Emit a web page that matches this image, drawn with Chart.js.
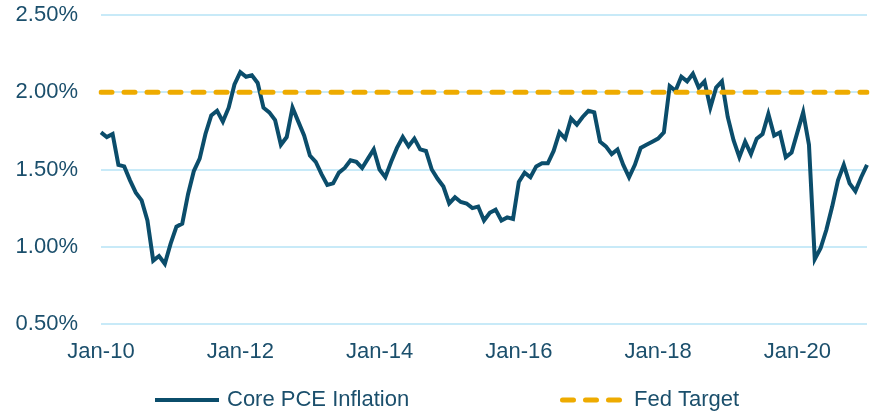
<!DOCTYPE html>
<html>
<head>
<meta charset="utf-8">
<script src="https://cdn.jsdelivr.net/npm/chart.js@4/dist/chart.umd.min.js"></script>
<style>
  html, body { margin: 0; padding: 0; background: #fff; }
  #wrap { width: 880px; height: 415px; }
</style>
</head>
<body>
<div id="wrap"><canvas id="myChart" width="880" height="415"></canvas></div>
<script>
// monthly labels Jan-10 .. Jan-21
let monthNames = ["Jan","Feb","Mar","Apr","May","Jun","Jul","Aug","Sep","Oct","Nov","Dec"];
let labels = [];
for (let y = 2010; y <= 2021; y++) {
  for (let m = 0; m < 12; m++) {
    if (y === 2021 && m > 0) break;
    labels.push(monthNames[m] + "-" + String(y).slice(2));
  }
}

// core PCE y/y, %
let corePce = [
  1.74, 1.71, 1.73, 1.53, 1.52, 1.43, 1.35, 1.30, 1.17, 0.91, 0.94, 0.89,
  1.02, 1.13, 1.15, 1.34, 1.49, 1.57, 1.73, 1.85, 1.88, 1.81, 1.90, 2.05,
  2.13, 2.10, 2.11, 2.06, 1.90, 1.87, 1.82, 1.66, 1.71, 1.90, 1.81, 1.72,
  1.59, 1.55, 1.47, 1.40, 1.41, 1.48, 1.51, 1.56, 1.55, 1.51, 1.57, 1.63,
  1.50, 1.45, 1.55, 1.64, 1.71, 1.65, 1.70, 1.63, 1.62, 1.50, 1.44, 1.39,
  1.28, 1.32, 1.29, 1.28, 1.25, 1.26, 1.17, 1.22, 1.24, 1.17, 1.19, 1.18,
  1.42, 1.48, 1.45, 1.52, 1.54, 1.54, 1.62, 1.74, 1.70, 1.83, 1.79, 1.84,
  1.88, 1.87, 1.68, 1.65, 1.60, 1.63, 1.53, 1.45, 1.53, 1.64, 1.66, 1.68,
  1.70, 1.74, 2.04, 2.01, 2.10, 2.07, 2.12, 2.03, 2.07, 1.90, 2.03, 2.07,
  1.84, 1.69, 1.58, 1.68, 1.60, 1.70, 1.73, 1.86, 1.72, 1.74, 1.58, 1.61,
  1.74, 1.87, 1.66, 0.92, 0.99, 1.11, 1.26, 1.43, 1.53, 1.41, 1.36, 1.45,
  1.53
];
let fedTarget = 2.0;

let yTicks = [0.5, 1.0, 1.5, 2.0, 2.5];

let navy = "#0b4d6b";
let gold = "#eeab00";
let textCol = "#1b4f6c";
let fontFam = "'Liberation Sans', Arial, sans-serif";

// legend drawn by hand so the gap between the two items matches
let legendPlugin = {
  id: "bottomLegend",
  afterDraw(chart) {
    let ctx = chart.ctx;
    let y = 400;
    ctx.save();
    ctx.lineCap = "butt";
    ctx.strokeStyle = navy;
    ctx.lineWidth = 4;
    ctx.beginPath();
    ctx.moveTo(155, y);
    ctx.lineTo(219, y);
    ctx.stroke();

    ctx.strokeStyle = gold;
    ctx.lineWidth = 5;
    ctx.lineCap = "round";
    ctx.setLineDash([11, 12]);
    ctx.beginPath();
    ctx.moveTo(562.5, y);
    ctx.lineTo(619.5, y);
    ctx.stroke();
    ctx.setLineDash([]);

    ctx.fillStyle = textCol;
    ctx.font = "22px " + fontFam;
    ctx.textBaseline = "middle";
    ctx.textAlign = "left";
    ctx.fillText(chart.data.datasets[0].label, 227, y);
    ctx.fillText(chart.data.datasets[1].label, 634, y);
    ctx.restore();
  }
};

let ctx = document.getElementById("myChart").getContext("2d");
let lineChart = new Chart(ctx, {
  type: "line",
  data: {
    labels: labels,
    datasets: [
      {
        label: "Core PCE Inflation",
        data: corePce,
        borderColor: navy,
        borderWidth: 4,
        pointRadius: 0,
        tension: 0,
        borderJoinStyle: "miter",
        fill: false,
        order: 1
      },
      {
        label: "Fed Target",
        data: labels.map(() => fedTarget),
        borderColor: gold,
        borderWidth: 5,
        borderDash: [11, 12],
        borderCapStyle: "round",
        pointRadius: 0,
        fill: false,
        order: 0
      }
    ]
  },
  options: {
    responsive: false,
    animation: false,
    layout: { padding: { top: 15, right: 13, bottom: 55, left: 0 } },
    plugins: {
      legend: { display: false },
      tooltip: { enabled: false }
    },
    scales: {
      x: {
        grid: { display: false },
        border: { display: false },
        ticks: {
          autoSkip: false,
          maxRotation: 0,
          padding: 7,
          color: textCol,
          font: { family: fontFam, size: 22 },
          callback: function (val, i) {
            return i % 24 === 0 ? labels[i] : "";
          }
        },
        afterFit(scale) {
          scale.height = 36;
          scale.paddingLeft = 0;
          scale.paddingRight = 0;
        }
      },
      y: {
        min: 0.5,
        max: 2.5,
        afterBuildTicks(scale) {
          scale.ticks = yTicks.map((v) => ({ value: v }));
        },
        grid: { color: "#c8eaf8", lineWidth: 2, drawTicks: false },
        border: { display: false },
        ticks: {
          padding: 23,
          color: textCol,
          font: { family: fontFam, size: 22 },
          callback: (v) => v.toFixed(2) + "%"
        },
        afterFit(scale) {
          scale.width = 101;
          scale.paddingTop = 0;
          scale.paddingBottom = 0;
        }
      }
    }
  },
  plugins: [legendPlugin]
});
</script>
</body>
</html>
